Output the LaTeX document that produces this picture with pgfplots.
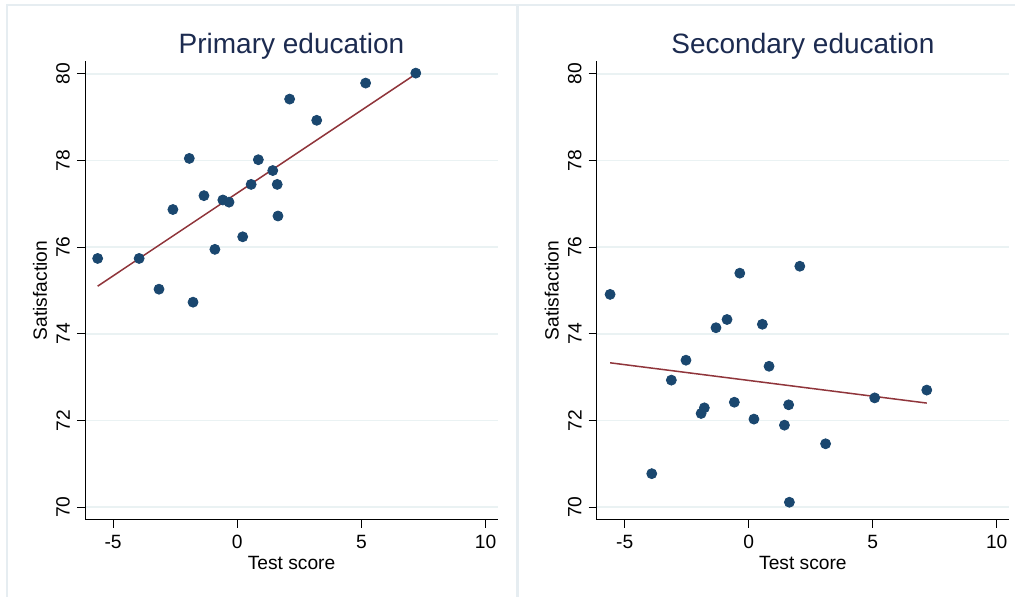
\documentclass[border=0pt]{standalone}
\usepackage{fontspec}
\setmainfont{Liberation Sans}
\usepackage{pgfplots}
\pgfplotsset{compat=1.18}
\definecolor{stnavy}{RGB}{26,71,111}
\definecolor{stmaroon}{RGB}{144,53,59}
\definecolor{gridc}{RGB}{234,242,243}
\definecolor{framec}{RGB}{230,237,241}
\definecolor{titlec}{RGB}{28,43,80}
\pgfplotsset{stata/.style={
  scale only axis, height=229.5pt,
  xmin=-6.13, xmax=10.5, ymin=69.7, ymax=80.3,
  axis lines=left, axis line style={-, line width=0.5pt, black},
  xtick={-5,0,5,10}, xticklabels={-5,0,5,10},
  ytick={70,72,74,76,78,80}, yticklabels={70,72,74,76,78,80},
  tick align=outside, major tick length=4pt, tick style={black, line width=0.5pt},
  ymajorgrids, major grid style={gridc, line width=0.75pt},
  ticklabel style={font=\fontsize{9.6}{11}\selectfont},
  yticklabel style={rotate=90, anchor=south},
  xticklabel style={anchor=north},
  xlabel={Test score}, ylabel={Satisfaction},
  label style={font=\fontsize{9.6}{11}\selectfont},
  xlabel style={at={(axis description cs:0.5,-0.0937)}, anchor=center},
  ylabel style={at={(axis description cs:-0.109,0.5)}, anchor=center},
  title style={at={(axis description cs:0.5,1.0174)}, anchor=base, yshift=-6pt, font=\fontsize{14}{17}\selectfont, text=titlec},
  clip=false,
}}
\begin{document}
\begin{tikzpicture}
\path[use as bounding box, fill=white] (0,0) rectangle (507.5pt,298.5pt);
\draw[framec, line width=0.6pt] (3.5pt,-10pt) rectangle (258.5pt,296pt);
\draw[framec, line width=0.6pt] (259pt,-10pt) rectangle (520pt,296pt);
\begin{axis}[stata, at={(42.5pt,38.5pt)}, anchor=south west, width=206.5pt, title={Primary education}]
\addplot[only marks, mark=*, mark size=2.5pt, color=stnavy, mark options={draw=stnavy, fill=stnavy}] table {
x y
-5.62 75.74
-3.95 75.74
-3.15 75.03
-2.59 76.87
-1.93 78.05
-1.78 74.73
-1.34 77.19
-0.90 75.95
-0.58 77.09
-0.33 77.04
0.22 76.24
0.56 77.45
0.85 78.02
1.43 77.77
1.61 77.45
1.64 76.72
2.11 79.42
3.20 78.93
5.17 79.79
7.19 80.02
};
\addplot[stmaroon, line width=0.75pt] coordinates {(-5.62,75.10) (7.19,80.00)};
\end{axis}
\begin{axis}[stata, at={(298.35pt,38.5pt)}, anchor=south west, width=206.2pt, title={Secondary education}]
\addplot[only marks, mark=*, mark size=2.5pt, color=stnavy, mark options={draw=stnavy, fill=stnavy}] table {
x y
-5.59 74.91
-3.91 70.77
-3.12 72.93
-2.53 73.39
-1.92 72.16
-1.79 72.29
-1.32 74.14
-0.875 74.33
-0.58 72.42
-0.36 75.40
0.21 72.03
0.55 74.22
0.82 73.25
1.44 71.89
1.61 72.36
1.64 70.11
2.06 75.56
3.10 71.46
5.08 72.52
7.18 72.70
};
\addplot[stmaroon, line width=0.75pt] coordinates {(-5.59,73.33) (7.18,72.40)};
\end{axis}
\end{tikzpicture}
\end{document}
